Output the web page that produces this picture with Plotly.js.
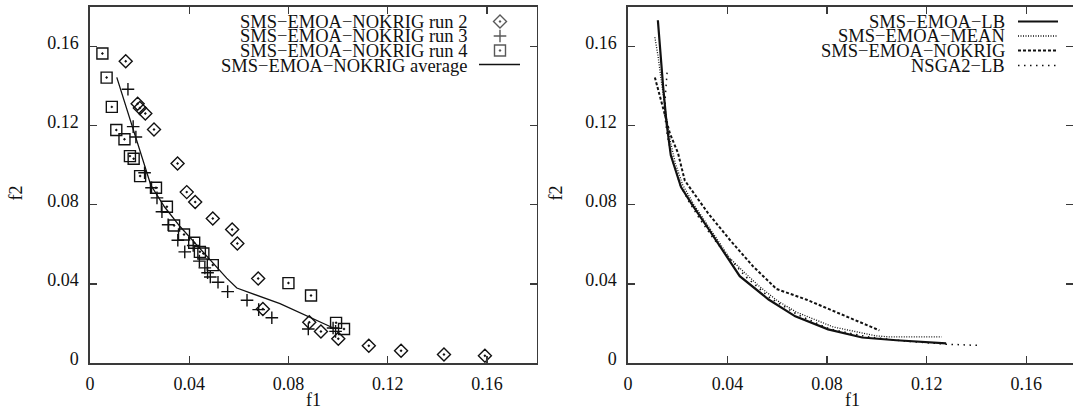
<!DOCTYPE html>
<html>
<head>
<meta charset="utf-8">
<script src="https://cdn.plot.ly/plotly-3.0.1.min.js"></script>
<style>html,body{margin:0;padding:0;background:#fff;}#chart{width:1073px;height:410px;}</style>
</head>
<body>
<div id="chart"></div>
<script>
// ---------- data ----------
const tickVals = [0, 0.04, 0.08, 0.12, 0.16];
const tickText = ['0', '0.04', '0.08', '0.12', '0.16'];

// Left panel: SMS-EMOA-NOKRIG runs
const run2F1 = [0.0144,0.0192,0.0201,0.0223,0.0258,0.0353,0.0390,0.0424,0.0495,0.0573,0.0594,0.0678,0.0697,0.0884,0.0931,0.1001,0.1124,0.1254,0.1427,0.1592];
const run2F2 = [0.1526,0.1311,0.1289,0.1262,0.1181,0.1009,0.0864,0.0814,0.0731,0.0675,0.0604,0.0427,0.0273,0.0206,0.0159,0.0123,0.0087,0.0062,0.0043,0.0037];

const run3F1 = [0.0153,0.0174,0.0185,0.0220,0.0248,0.0270,0.0290,0.0315,0.0354,0.0382,0.0416,0.0441,0.0463,0.0474,0.0485,0.0516,0.0555,0.0633,0.0680,0.0733,0.0880,0.0980,0.0990];
const run3F2 = [0.1384,0.1195,0.1143,0.0962,0.0886,0.0835,0.0765,0.0699,0.0621,0.0562,0.0594,0.0515,0.0481,0.0456,0.0435,0.0408,0.0361,0.0317,0.0270,0.0229,0.0172,0.0177,0.0160];

const run4F1 = [0.0050,0.0067,0.0088,0.0106,0.0139,0.0161,0.0176,0.0202,0.0266,0.0310,0.0339,0.0379,0.0420,0.0443,0.0457,0.0495,0.0800,0.0891,0.0992,0.1024];
const run4F2 = [0.1565,0.1443,0.1295,0.1178,0.1131,0.1046,0.1033,0.0945,0.0886,0.0790,0.0695,0.0650,0.0608,0.0562,0.0554,0.0495,0.0404,0.0341,0.0203,0.0172];

const avgF1 = [0.0108,0.0245,0.0300,0.0363,0.0430,0.0497,0.0551,0.0592,0.0766,0.0981];
const avgF2 = [0.1444,0.0900,0.0790,0.0690,0.0597,0.0505,0.0429,0.0379,0.0300,0.0177];

// Right panel
const lbF1 = [0.0120,0.0130,0.0141,0.0155,0.0172,0.0213,0.0257,0.0325,0.0394,0.0449,0.0565,0.0672,0.0804,0.0941,0.1078,0.1278];
const lbF2 = [0.1733,0.1550,0.1400,0.1212,0.1050,0.0890,0.0802,0.0675,0.0540,0.0439,0.0321,0.0236,0.0170,0.0129,0.0115,0.0099];

const meanF1 = [0.0108,0.0121,0.0135,0.0148,0.0165,0.0190,0.0220,0.0265,0.0330,0.0409,0.0470,0.0530,0.0600,0.0677,0.0825,0.0999,0.1050,0.1260];
const meanF2 = [0.1647,0.1549,0.1414,0.1296,0.1150,0.1010,0.0900,0.0800,0.0680,0.0530,0.0455,0.0385,0.0315,0.0257,0.0182,0.0137,0.0132,0.0132];

const nokrigF1 = [0.0108,0.0140,0.0168,0.0201,0.0228,0.0322,0.0409,0.0503,0.0597,0.0718,0.0878,0.1010];
const nokrigF2 = [0.1444,0.1290,0.1162,0.1061,0.0923,0.0757,0.0623,0.0488,0.0374,0.0320,0.0235,0.0165];

const nsgaF1 = [0.0157,0.0150,0.0148,0.0158,0.0180,0.0210,0.0245,0.0290,0.0340,0.0400,0.0470,0.0570,0.0680,0.0810,0.0950,0.1100,0.1280,0.1407];
const nsgaF2 = [0.1468,0.1350,0.1250,0.1150,0.1020,0.0900,0.0815,0.0725,0.0635,0.0540,0.0440,0.0330,0.0245,0.0172,0.0135,0.0112,0.0095,0.0089];

const leftNames = ['SMS\u2212EMOA\u2212NOKRIG run 2','SMS\u2212EMOA\u2212NOKRIG run 3','SMS\u2212EMOA\u2212NOKRIG run 4','SMS\u2212EMOA\u2212NOKRIG average'];
const rightNames = ['SMS\u2212EMOA\u2212LB','SMS\u2212EMOA\u2212MEAN','SMS\u2212EMOA\u2212NOKRIG','NSGA2\u2212LB'];

// ---------- layout constants (pixels) ----------
const W = 1073, H = 410, T = 7, B = 47;
const plotH = H - T - B;
const FONT = 'Liberation Serif, Times New Roman, serif';
const INK = '#111';
const AX = '#3a3a3a';
const leftX0 = 90, leftX1 = 536.5, rightX0 = 628, rightX1 = 1076;
const legRows = [21.5, 36, 50.5, 65.5];
const py = p => (H - B - p) / plotH; // pixel y -> paper y
const px = p => p / W;

const mk = (sym, size) => ({symbol: sym, size: size, color: INK, line: {color: INK, width: 1.4}});

const traces = [
  {x: run2F1, y: run2F2, mode: 'markers', marker: mk('diamond-open-dot', 10), xaxis: 'x', yaxis: 'y'},
  {x: run3F1, y: run3F2, mode: 'markers', marker: mk('cross-thin-open', 9), xaxis: 'x', yaxis: 'y'},
  {x: run4F1, y: run4F2, mode: 'markers', marker: mk('square-open-dot', 11), xaxis: 'x', yaxis: 'y'},
  {x: avgF1, y: avgF2, mode: 'lines', line: {color: INK, width: 1.3}, xaxis: 'x', yaxis: 'y'},
  {x: meanF1, y: meanF2, mode: 'lines', line: {color: INK, width: 1.3, dash: '1px,1.5px'}, xaxis: 'x2', yaxis: 'y2'},
  {x: nsgaF1, y: nsgaF2, mode: 'lines', line: {color: INK, width: 1.5, dash: '1.5px,4.5px'}, xaxis: 'x2', yaxis: 'y2'},
  {x: nokrigF1, y: nokrigF2, mode: 'lines', line: {color: INK, width: 2, dash: '3px,2px'}, xaxis: 'x2', yaxis: 'y2'},
  {x: lbF1, y: lbF2, mode: 'lines', line: {color: INK, width: 2.2}, xaxis: 'x2', yaxis: 'y2'},
  // legend symbols (left panel), on a pixel overlay axis
  {x: [500, 500, 500], y: legRows.slice(0, 3), mode: 'markers', xaxis: 'x3', yaxis: 'y3', cliponaxis: false,
   marker: {symbol: ['diamond-open-dot', 'cross-thin-open', 'square-open-dot'], size: [10, 9, 11], color: INK, line: {color: INK, width: 1.4}}}
];

const axisCommon = {
  range: [0, 0.18], tickvals: tickVals, ticktext: tickText, ticks: 'inside', ticklen: 7, tickwidth: 1.4,
  tickcolor: AX, showline: true, linecolor: AX, linewidth: 1.7, mirror: 'ticks', showgrid: false,
  zeroline: false, tickfont: {family: FONT, size: 18, color: INK}, fixedrange: true
};

const layout = {
  width: W, height: H, autosize: false,
  margin: {l: 0, r: 0, t: T, b: B, pad: 0},
  paper_bgcolor: '#fff', plot_bgcolor: 'rgba(0,0,0,0)', showlegend: false,
  xaxis: Object.assign({}, axisCommon, {domain: [px(leftX0), px(leftX1)], anchor: 'y', ticklabelstandoff: 4}),
  yaxis: Object.assign({}, axisCommon, {domain: [0, 1], anchor: 'x', ticklabelstandoff: 6, ticklabelshift: -4}),
  xaxis2: Object.assign({}, axisCommon, {domain: [px(rightX0), 1], anchor: 'y2',
    range: [0, 0.18 * (W - rightX0) / (rightX1 - rightX0)], ticklabelstandoff: 4}),
  yaxis2: Object.assign({}, axisCommon, {domain: [0, 1], anchor: 'x2', ticklabelstandoff: 6, ticklabelshift: -4}),
  xaxis3: {domain: [0, 1], range: [0, W], visible: false, fixedrange: true, anchor: 'y3'},
  yaxis3: {domain: [0, 1], range: [H - B, T], visible: false, fixedrange: true, anchor: 'x3'},
  annotations: [],
  shapes: []
};

// axis titles
const titleFont = {family: FONT, size: 18, color: INK};
const legFont = {family: FONT, size: 18.5, color: INK};
[(leftX0 + leftX1) / 2, (rightX0 + rightX1) / 2].forEach(cx => {
  layout.annotations.push({text: 'f1', xref: 'paper', yref: 'paper', x: px(cx), y: py(400), xanchor: 'center', yanchor: 'middle', showarrow: false, font: titleFont});
});
[15.5, 555.5].forEach(cx => {
  layout.annotations.push({text: 'f2', xref: 'paper', yref: 'paper', x: px(cx), y: py(193), textangle: -90, xanchor: 'center', yanchor: 'middle', showarrow: false, font: titleFont});
});

// legend texts
leftNames.forEach((t, i) => layout.annotations.push({text: t, xref: 'paper', yref: 'paper', x: px(469), y: py(legRows[i]), xanchor: 'right', yanchor: 'middle', showarrow: false, font: legFont}));
rightNames.forEach((t, i) => layout.annotations.push({text: t, xref: 'paper', yref: 'paper', x: px(1007), y: py(legRows[i]), xanchor: 'right', yanchor: 'middle', showarrow: false, font: legFont}));

// legend line samples
layout.shapes.push({type: 'line', xref: 'paper', yref: 'paper', x0: px(479), x1: px(520), y0: py(legRows[3] - 1), y1: py(legRows[3] - 1), line: {color: INK, width: 1.3}});
const rightStyles = [{width: 2.2}, {width: 1.3, dash: '1px,1.5px'}, {width: 2, dash: '3px,2px'}, {width: 1.5, dash: '1.5px,4.5px'}];
rightStyles.forEach((s, i) => layout.shapes.push({type: 'line', xref: 'paper', yref: 'paper', x0: px(1018), x1: px(1058), y0: py(legRows[i]), y1: py(legRows[i]), line: Object.assign({color: INK}, s)}));

Plotly.newPlot('chart', traces, layout, {staticPlot: true, displayModeBar: false});
</script>
</body>
</html>
